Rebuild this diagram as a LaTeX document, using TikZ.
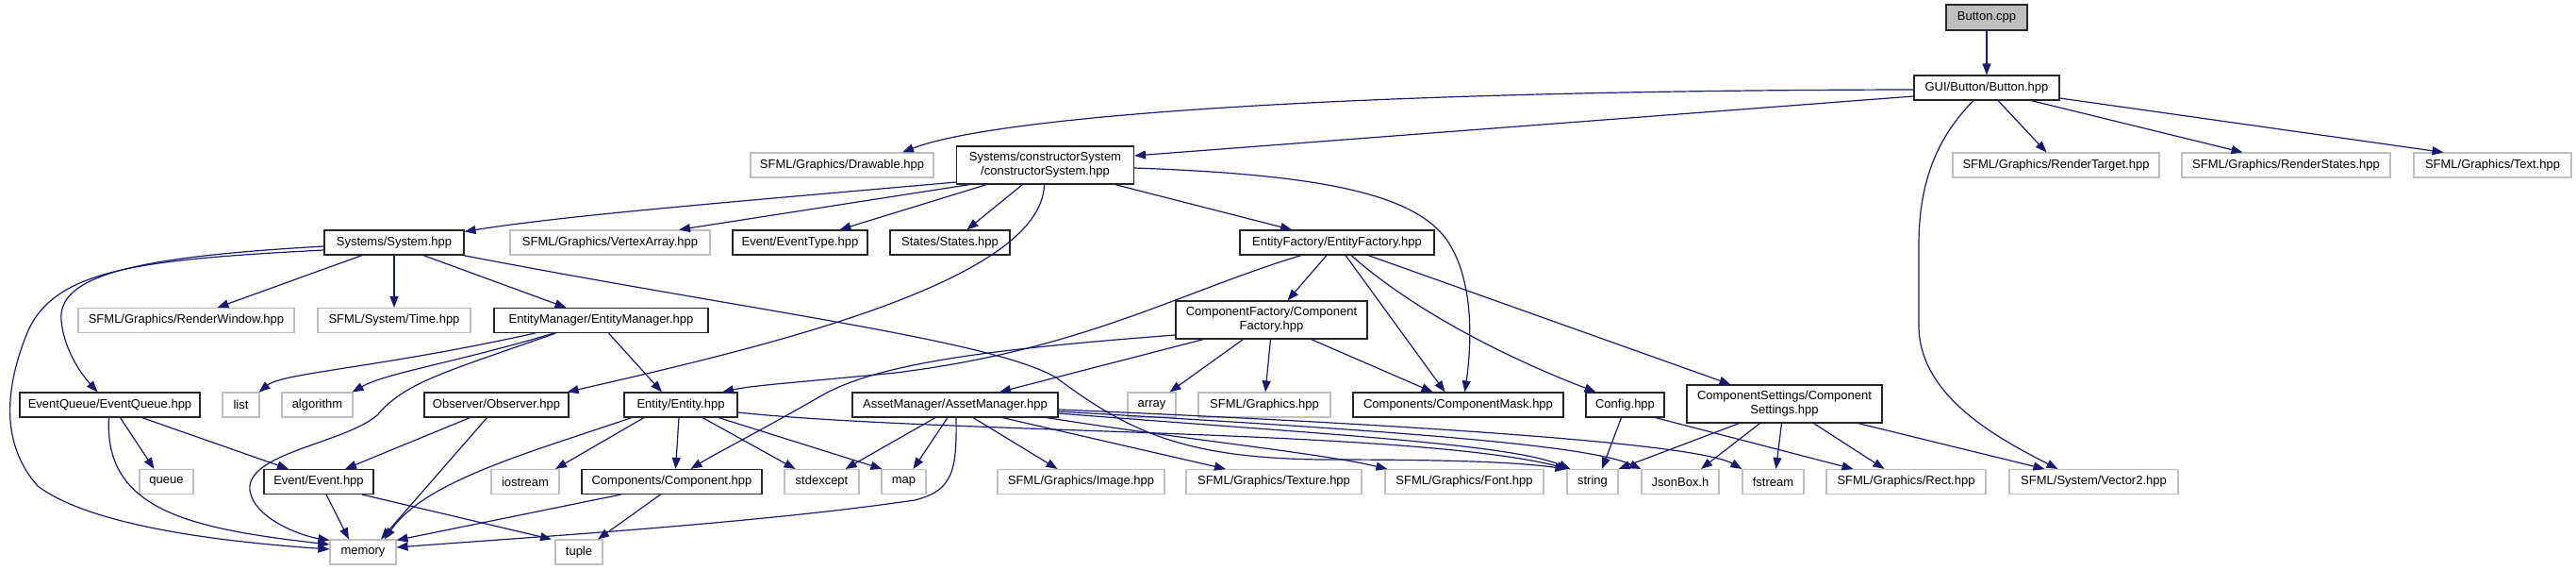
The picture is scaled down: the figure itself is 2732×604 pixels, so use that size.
\documentclass[tikz,border=0pt]{standalone}
\usepackage{fontspec}
\setmainfont{Liberation Sans}
\usetikzlibrary{arrows.meta}
\definecolor{edgec}{RGB}{25,25,112}
\definecolor{greyb}{RGB}{191,191,191}
\begin{document}
\begin{tikzpicture}[x=1pt,y=-1pt,
  fbox/.style={draw=black!85, line width=1.1pt, fill=white, inner sep=0pt, minimum height=26pt, font=\fontsize{13}{15}\selectfont, align=center},
  gbox/.style={fbox, draw=greyb},
  e/.style={draw=edgec, line width=1.2pt, -{Triangle[length=12pt,width=9pt]}}]
\useasboundingbox (0,0) rectangle (2732,604);
% nodes
\node[fbox, fill=greyb, minimum width=86pt, minimum height=27pt] (but) at (2107,18.5) {Button.cpp};
\node[fbox, minimum width=154pt] (bhpp) at (2107,93) {GUI/Button/Button.hpp};
\node[gbox, minimum width=194pt] (draw) at (893,175) {SFML/Graphics/Drawable.hpp};
\node[fbox, minimum width=188pt, minimum height=40pt] (cs) at (1108.5,175) {Systems/constructorSystem\\/constructorSystem.hpp};
\node[gbox, minimum width=219pt] (rt) at (2180.5,175) {SFML/Graphics/RenderTarget.hpp};
\node[gbox, minimum width=221pt] (rs) at (2424.5,175) {SFML/Graphics/RenderStates.hpp};
\node[gbox, minimum width=167pt] (txt) at (2643.5,175) {SFML/Graphics/Text.hpp};
\node[fbox, minimum width=148pt] (sys) at (418,257) {Systems/System.hpp};
\node[gbox, minimum width=212pt] (va) at (647,257) {SFML/Graphics/VertexArray.hpp};
\node[fbox, minimum width=143pt] (et) at (848.5,257) {Event/EventType.hpp};
\node[fbox, minimum width=127pt] (st) at (1007.5,257) {States/States.hpp};
\node[fbox, minimum width=206pt] (ef) at (1418,257) {EntityFactory/EntityFactory.hpp};
\node[gbox, minimum width=229pt] (rw) at (197.5,339.5) {SFML/Graphics/RenderWindow.hpp};
\node[gbox, minimum width=162pt] (tm) at (418,339.5) {SFML/System/Time.hpp};
\node[fbox, minimum width=227pt] (em) at (637.5,339.5) {EntityManager/EntityManager.hpp};
\node[fbox, minimum width=203pt, minimum height=40pt] (cf) at (1348.5,339) {ComponentFactory/Component\\Factory.hpp};
\node[fbox, minimum width=191pt] (eq) at (116.5,429) {EventQueue/EventQueue.hpp};
\node[gbox, minimum width=39pt] (lst) at (255.5,429) {list};
\node[gbox, minimum width=75pt] (alg) at (336.5,429) {algorithm};
\node[fbox, minimum width=153pt] (obs) at (526.5,429) {Observer/Observer.hpp};
\node[fbox, minimum width=120pt] (ent) at (722,429) {Entity/Entity.hpp};
\node[fbox, minimum width=218pt] (am) at (1013,429) {AssetManager/AssetManager.hpp};
\node[gbox, minimum width=51pt] (arr) at (1221.5,429) {array};
\node[gbox, minimum width=140pt] (gfx) at (1341,429) {SFML/Graphics.hpp};
\node[fbox, minimum width=223pt] (cm) at (1546.5,429) {Components/ComponentMask.hpp};
\node[fbox, minimum width=83pt] (cfg) at (1723.5,429) {Config.hpp};
\node[fbox, minimum width=207pt, minimum height=40pt] (cst) at (1892.5,428) {ComponentSettings/Component\\Settings.hpp};
\node[gbox, minimum width=57pt] (que) at (176.5,510.5) {queue};
\node[fbox, minimum width=116pt] (ev) at (338,510.5) {Event/Event.hpp};
\node[gbox, minimum width=72pt] (ios) at (557,510.5) {iostream};
\node[fbox, minimum width=191pt] (cmp) at (712.5,510.5) {Components/Component.hpp};
\node[gbox, minimum width=79pt] (sx) at (871.5,510.5) {stdexcept};
\node[gbox, minimum width=47pt] (map) at (958.5,510.5) {map};
\node[gbox, minimum width=177pt] (img) at (1146.5,510.5) {SFML/Graphics/Image.hpp};
\node[gbox, minimum width=186pt] (tex) at (1351,510.5) {SFML/Graphics/Texture.hpp};
\node[gbox, minimum width=168pt] (fnt) at (1553,510.5) {SFML/Graphics/Font.hpp};
\node[gbox, minimum width=54pt] (str) at (1689,510.5) {string};
\node[gbox, minimum width=82pt] (jb) at (1782,510.5) {JsonBox.h};
\node[gbox, minimum width=65pt] (fs) at (1880.5,510.5) {fstream};
\node[gbox, minimum width=169pt] (rct) at (2021.5,510.5) {SFML/Graphics/Rect.hpp};
\node[gbox, minimum width=179pt] (v2) at (2220.5,510.5) {SFML/System/Vector2.hpp};
\node[gbox, minimum width=70pt] (mem) at (385,585) {memory};
\node[gbox, minimum width=50pt] (tup) at (614,585) {tuple};
% edges: Button
\draw[e] (but.south) -- (bhpp.north);
\draw[e] ([yshift=-2pt]bhpp.west) .. controls (1400,96) and (1050,125) .. ([xshift=64pt]draw.north);
\draw[e] ([yshift=-9pt]bhpp.west) -- ([yshift=10pt]cs.east);
\draw[e] ([xshift=12pt]bhpp.south) -- ([xshift=-10pt]rt.north);
\draw[e] ([xshift=47pt]bhpp.south) -- ([xshift=-46pt]rs.north);
\draw[e] ([yshift=-11pt]bhpp.east) -- ([xshift=-52pt]txt.north);
\draw[e] ([xshift=-14pt]bhpp.south) .. controls (2050,150) and (2035,200) .. (2035,260) -- (2035,345) .. controls (2035,420) and (2120,465) .. ([xshift=-38pt]v2.north);
% constructorSystem
\draw[e] ([yshift=-18pt]cs.west) .. controls (800,212) and (600,228) .. ([yshift=-2pt]sys.north east);
\draw[e] ([xshift=-80pt]cs.south) -- ([xshift=73pt]va.north);
\draw[e] ([xshift=-62pt]cs.south) -- ([xshift=42pt]et.north);
\draw[e] ([xshift=-24pt]cs.south) -- ([xshift=18pt]st.north);
\draw[e] ([xshift=-1pt]cs.south) .. controls (1105,300) and (800,370) .. ([xshift=-2pt]obs.north east);
\draw[e] ([xshift=74pt]cs.south) -- ([xshift=-48pt]ef.north);
\draw[e] ([yshift=-3pt]cs.east) .. controls (1400,185) and (1500,205) .. (1535,255) .. controls (1565,300) and (1560,370) .. ([xshift=7pt]cm.north);
% System
\draw[e] ([xshift=-34pt]sys.south) -- ([xshift=33pt]rw.north);
\draw[e] (sys.south) -- (tm.north);
\draw[e] ([xshift=31pt]sys.south) -- ([xshift=-37pt]em.north);
\draw[e] ([yshift=-4pt]sys.west) .. controls (150,272) and (60,290) .. (65,340) .. controls (68,370) and (85,395) .. ([xshift=-13pt]eq.north);
\draw[e] ([yshift=-8pt]sys.west) .. controls (150,275) and (60,285) .. (30,350) .. controls (5,410) and (0,470) .. (40,515) .. controls (100,560) and (250,575) .. ([yshift=3pt]mem.west);
\draw[e] ([xshift=73pt]sys.south) .. controls (800,330) and (1050,360) .. (1120,400) .. controls (1200,460) and (1260,485) .. (1400,487) .. controls (1550,487) and (1610,490) .. (str.north west);
% EntityManager
\draw[e] ([xshift=-70pt]em.south) .. controls (400,390) and (300,395) .. ([xshift=-1pt]lst.north east);
\draw[e] ([xshift=-50pt]em.south) .. controls (480,385) and (410,395) .. ([xshift=-1pt]alg.north east);
\draw[e] ([xshift=-48pt]em.south) .. controls (470,395) and (430,405) .. (400,440) .. controls (365,470) and (260,480) .. (265,520) .. controls (270,550) and (320,568) .. ([yshift=-1pt]mem.north west);
\draw[e] ([xshift=8pt]em.south) -- ([xshift=-20pt]ent.north);
% EventQueue
\draw[e] ([xshift=11pt]eq.south) -- ([xshift=-13pt]que.north);
\draw[e] ([xshift=34pt]eq.south) -- ([xshift=-32pt]ev.north);
\draw[e] ([xshift=-1pt]eq.south) .. controls (110,540) and (200,560) .. ([yshift=8pt]mem.west);
% Observer
\draw[e] ([xshift=-28pt]obs.south) -- ([xshift=28pt]ev.north);
\draw[e] ([xshift=-10pt]obs.south) -- ([xshift=19pt]mem.north);
% Event
\draw[e] ([xshift=8pt]ev.south) -- ([xshift=-15pt]mem.north);
\draw[e] ([xshift=46pt]ev.south) -- ([xshift=-29pt]tup.north);
% Entity
\draw[e] ([xshift=-52pt]ent.south) .. controls (560,480) and (450,510) .. ([xshift=23pt]mem.north);
\draw[e] ([xshift=-39pt]ent.south) -- ([xshift=32pt]ios.north);
\draw[e] ([xshift=-2pt]ent.south) -- ([xshift=4pt]cmp.north);
\draw[e] ([xshift=23pt]ent.south) -- ([xshift=-28pt]sx.north);
\draw[e] ([xshift=40pt]ent.south) -- ([xshift=1pt]map.north west);
\draw[e] ([yshift=-8pt]ent.east) .. controls (1000,460) and (1500,455) .. ([xshift=2pt]str.north west);
% Component
\draw[e] ([xshift=-54pt]cmp.south) -- ([yshift=-1pt]mem.north east);
\draw[e] ([xshift=-12pt]cmp.south) -- ([xshift=20pt]tup.north);
% AssetManager
\draw[e] ([xshift=-21pt]am.south) -- ([xshift=25pt]sx.north);
\draw[e] ([xshift=-8pt]am.south) -- ([xshift=10pt]map.north);
\draw[e] ([xshift=1pt]am.south) .. controls (1015,500) and (1010,520) .. (970,530) .. controls (800,555) and (550,570) .. ([yshift=5pt]mem.east);
\draw[e] ([xshift=19pt]am.south) -- ([xshift=-25pt]img.north);
\draw[e] ([xshift=50pt]am.south) -- ([xshift=-51pt]tex.north);
\draw[e] ([xshift=97pt]am.south) .. controls (1250,465) and (1400,480) .. ([xshift=3pt]fnt.north west);
\draw[e] ([yshift=-9pt]am.east) .. controls (1400,460) and (1600,470) .. ([xshift=4pt]str.north west);
\draw[e] ([yshift=-7pt]am.east) .. controls (1450,455) and (1680,470) .. (jb.north west);
\draw[e] ([yshift=-5pt]am.east) .. controls (1500,450) and (1800,470) .. (fs.north west);
% ComponentFactory
\draw[e] ([yshift=-16pt]cf.west) .. controls (1050,370) and (930,385) .. (870,420) .. controls (800,460) and (760,480) .. ([xshift=20pt]cmp.north);
\draw[e] ([xshift=-72pt]cf.south) -- ([xshift=47pt]am.north);
\draw[e] ([xshift=-30pt]cf.south) -- ([xshift=19pt]arr.north);
\draw[e] ([xshift=-1pt]cf.south) -- ([xshift=1pt]gfx.north);
\draw[e] ([xshift=42pt]cf.south) -- ([xshift=-27pt]cm.north);
% EntityFactory
\draw[e] ([xshift=-38pt]ef.south) .. controls (1250,310) and (1150,370) .. (950,395) .. controls (850,405) and (800,408) .. ([xshift=44pt]ent.north);
\draw[e] ([xshift=-11pt]ef.south) -- ([xshift=17pt]cf.north);
\draw[e] ([xshift=9pt]ef.south) -- ([xshift=-14pt]cm.north);
\draw[e] ([xshift=15pt]ef.south) .. controls (1500,330) and (1600,380) .. ([xshift=-31pt]cfg.north);
\draw[e] ([xshift=33pt]ef.south) -- ([xshift=-57pt]cst.north);
% Config
\draw[e] ([xshift=-4pt]cfg.south) -- ([xshift=10pt]str.north);
\draw[e] ([xshift=32pt]cfg.south) -- ([xshift=-56pt]rct.north);
% ComponentSettings
\draw[e] ([xshift=-48pt]cst.south) -- (str.north east);
\draw[e] ([xshift=-26pt]cst.south) -- ([xshift=22pt]jb.north);
\draw[e] ([xshift=-3pt]cst.south) -- ([xshift=3pt]fs.north);
\draw[e] ([xshift=31pt]cst.south) -- ([xshift=-23pt]rct.north);
\draw[e] ([xshift=78pt]cst.south) -- ([xshift=-52pt]v2.north);
\end{tikzpicture}
\end{document}
